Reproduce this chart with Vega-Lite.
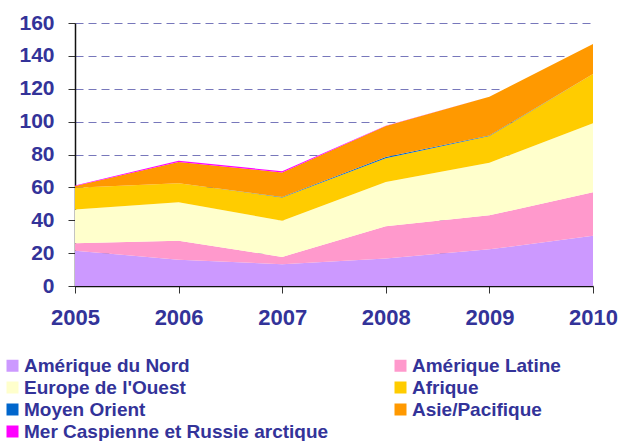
{
  "$schema": "https://vega.github.io/schema/vega-lite/v6.json",
  "width": 518,
  "height": 263,
  "autosize": "none",
  "padding": {"left": 75, "top": 23, "right": 27, "bottom": 155},
  "background": "white",
  "data": {
    "values": [
      {"year": "2005", "region": "Amérique du Nord", "k": 1, "value": 21.5},
      {"year": "2006", "region": "Amérique du Nord", "k": 1, "value": 16},
      {"year": "2007", "region": "Amérique du Nord", "k": 1, "value": 13.3},
      {"year": "2008", "region": "Amérique du Nord", "k": 1, "value": 16.8},
      {"year": "2009", "region": "Amérique du Nord", "k": 1, "value": 22.3},
      {"year": "2010", "region": "Amérique du Nord", "k": 1, "value": 30.6},
      {"year": "2005", "region": "Amérique Latine", "k": 2, "value": 4.5},
      {"year": "2006", "region": "Amérique Latine", "k": 2, "value": 11.5},
      {"year": "2007", "region": "Amérique Latine", "k": 2, "value": 4.4},
      {"year": "2008", "region": "Amérique Latine", "k": 2, "value": 19.5},
      {"year": "2009", "region": "Amérique Latine", "k": 2, "value": 20.7},
      {"year": "2010", "region": "Amérique Latine", "k": 2, "value": 26.4},
      {"year": "2005", "region": "Europe de l'Ouest", "k": 3, "value": 20.5},
      {"year": "2006", "region": "Europe de l'Ouest", "k": 3, "value": 23.5},
      {"year": "2007", "region": "Europe de l'Ouest", "k": 3, "value": 22},
      {"year": "2008", "region": "Europe de l'Ouest", "k": 3, "value": 27},
      {"year": "2009", "region": "Europe de l'Ouest", "k": 3, "value": 32},
      {"year": "2010", "region": "Europe de l'Ouest", "k": 3, "value": 42},
      {"year": "2005", "region": "Afrique", "k": 4, "value": 13.3},
      {"year": "2006", "region": "Afrique", "k": 4, "value": 11.5},
      {"year": "2007", "region": "Afrique", "k": 4, "value": 14.2},
      {"year": "2008", "region": "Afrique", "k": 4, "value": 14.4},
      {"year": "2009", "region": "Afrique", "k": 4, "value": 16.2},
      {"year": "2010", "region": "Afrique", "k": 4, "value": 30},
      {"year": "2005", "region": "Moyen Orient", "k": 5, "value": 0},
      {"year": "2006", "region": "Moyen Orient", "k": 5, "value": 0},
      {"year": "2007", "region": "Moyen Orient", "k": 5, "value": 0.2},
      {"year": "2008", "region": "Moyen Orient", "k": 5, "value": 0.8},
      {"year": "2009", "region": "Moyen Orient", "k": 5, "value": 0.3},
      {"year": "2010", "region": "Moyen Orient", "k": 5, "value": 0},
      {"year": "2005", "region": "Asie/Pacifique", "k": 6, "value": 1},
      {"year": "2006", "region": "Asie/Pacifique", "k": 6, "value": 13},
      {"year": "2007", "region": "Asie/Pacifique", "k": 6, "value": 15},
      {"year": "2008", "region": "Asie/Pacifique", "k": 6, "value": 18.8},
      {"year": "2009", "region": "Asie/Pacifique", "k": 6, "value": 23.7},
      {"year": "2010", "region": "Asie/Pacifique", "k": 6, "value": 18.2},
      {"year": "2005", "region": "Mer Caspienne et Russie arctique", "k": 7, "value": 0.4},
      {"year": "2006", "region": "Mer Caspienne et Russie arctique", "k": 7, "value": 0.7},
      {"year": "2007", "region": "Mer Caspienne et Russie arctique", "k": 7, "value": 0.7},
      {"year": "2008", "region": "Mer Caspienne et Russie arctique", "k": 7, "value": 0.2},
      {"year": "2009", "region": "Mer Caspienne et Russie arctique", "k": 7, "value": 0},
      {"year": "2010", "region": "Mer Caspienne et Russie arctique", "k": 7, "value": 0}
    ]
  },
  "mark": {"type": "area", "interpolate": "linear"},
  "encoding": {
    "x": {
      "field": "year",
      "type": "ordinal",
      "scale": {"type": "point", "padding": 0},
      "axis": {
        "title": null,
        "labelAngle": 0,
        "labelFont": "Liberation Sans",
        "labelFontWeight": "bold",
        "labelFontSize": 22,
        "labelColor": "#333399",
        "labelPadding": 14,
        "tickSize": 7,
        "tickColor": "#333333",
        "domainColor": "#111111",
        "domainWidth": 1.5,
        "grid": false
      }
    },
    "y": {
      "field": "value",
      "type": "quantitative",
      "stack": "zero",
      "scale": {"domain": [0, 160], "nice": false},
      "axis": {
        "title": null,
        "values": [0, 20, 40, 60, 80, 100, 120, 140, 160],
        "labelFont": "Liberation Sans",
        "labelFontWeight": "bold",
        "labelFontSize": 21,
        "labelColor": "#333399",
        "labelPadding": 14,
        "tickSize": 7,
        "tickColor": "#333333",
        "domainColor": "#111111",
        "domainWidth": 1.5,
        "grid": true,
        "gridColor": "#7777BB",
        "gridDash": [8, 5],
        "gridWidth": 1
      }
    },
    "color": {
      "field": "region",
      "type": "nominal",
      "scale": {
        "domain": ["Amérique du Nord", "Amérique Latine", "Europe de l'Ouest", "Afrique", "Moyen Orient", "Asie/Pacifique", "Mer Caspienne et Russie arctique"],
        "range": ["#CC99FF", "#FF99CC", "#FFFFCC", "#FFCC00", "#0066CC", "#FF9900", "#FF00FF"]
      },
      "legend": {
        "title": null,
        "orient": "none",
        "direction": "horizontal",
        "legendX": -72,
        "legendY": 333,
        "columns": 2,
        "columnPadding": 62,
        "rowPadding": 2,
        "symbolType": "square",
        "symbolSize": 144,
        "symbolStrokeWidth": 0,
        "symbolOffset": 0,
        "labelOffset": 2,
        "labelFont": "Liberation Sans",
        "labelFontWeight": "bold",
        "labelFontSize": 19,
        "labelColor": "#333399",
        "labelLimit": 400
      }
    },
    "order": {"field": "k", "type": "quantitative", "sort": "ascending"}
  },
  "config": {"view": {"stroke": null}}
}
